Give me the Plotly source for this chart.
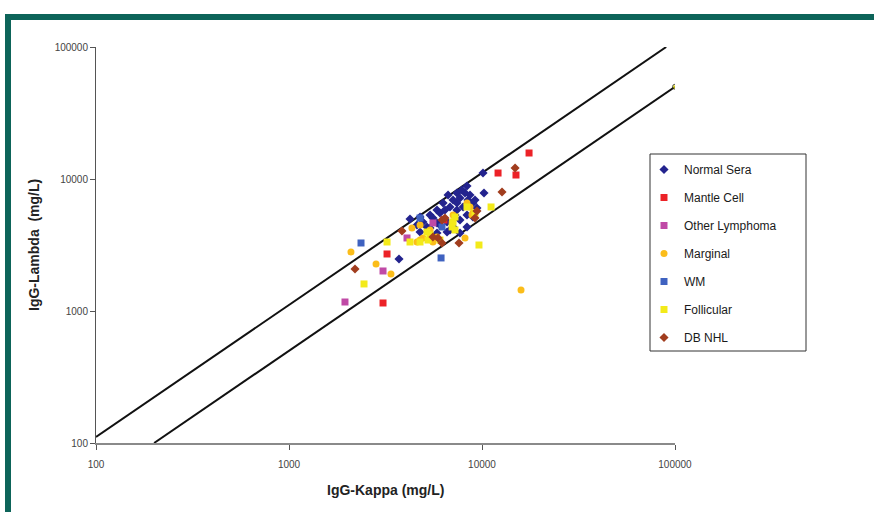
import plotly.graph_objects as go

# IgG-Kappa vs IgG-Lambda (mg/L) by diagnosis group
normal_kappa = [10120, 8360, 7415, 8165, 10240, 6670, 7080, 7690, 8455, 8975, 6285, 6825,
                5845, 7415, 7980, 9415, 5380, 6055, 4775, 4237, 8360, 4943, 5845, 6590,
                7690, 7080, 5185, 4603, 8360, 6590, 5845, 4775, 7690, 8975, 7415, 3715,
                6430, 7245, 8665, 6055, 5380, 7870, 9200, 5570, 6825]
normal_lambda = [11100, 8850, 7830, 7830, 7830, 7570, 6935, 7180, 6935, 6580, 6580, 6140,
                 5820, 5820, 6140, 6030, 5335, 5525, 5155, 4980, 5335, 4725, 4645, 4725,
                 4890, 4330, 4330, 4485, 4330, 3965, 3900, 3965, 3900, 5155, 6580, 2478,
                 5820, 5335, 7570, 4485, 4255, 8260, 6935, 5065, 4110]

mantle_kappa = [17530, 12110, 15000, 3221, 3070, 6355]
mantle_lambda = [15740, 11100, 10720, 2704, 1150, 4890]

other_kappa = [1950, 3070, 4087, 5570]
other_lambda = [1170, 2010, 3575, 4645]

marginal_kappa = [4335, 4775, 4603, 4943, 5380, 8360, 8665, 7080, 7000, 5570, 5845, 8165,
                  8975, 4775, 8870, 2094, 2825, 3375, 15930]
marginal_lambda = [4255, 4485, 3333, 3575, 4110, 6580, 6140, 5335, 4725, 3333, 3640, 3575,
                   5525, 3450, 5335, 2800, 2270, 1905, 1443]

wm_kappa = [2361, 6135, 4775, 6205]
wm_lambda = [3275, 2523, 5065, 4330]

follicular_kappa = [5185, 5380, 5250, 7080, 7000, 8360, 9200, 7245, 4775, 6055, 4237,
                    2447, 3221, 9645, 11140, 7245]
follicular_lambda = [3965, 3765, 3450, 4725, 4330, 6140, 5525, 5155, 3333, 3450, 3333,
                     1603, 3333, 3162, 6140, 4110]

dbnhl_kappa = [3848, 5915, 7600, 9415, 9200, 6205, 6430, 5570, 2198, 14840, 12700, 6205]
dbnhl_lambda = [4037, 3575, 3275, 5725, 5065, 4890, 5065, 3640, 2080, 12110, 7980, 3275]

# Ratio reference lines (kappa/lambda = 0.9 and 2.0)
upper_kappa = [100, 90000]
upper_lambda = [111.1, 100000]
lower_kappa = [200, 100000]
lower_lambda = [100, 50000]

series = [
    ("Normal Sera", normal_kappa, normal_lambda, "diamond", "#23238e", 7),
    ("Mantle Cell", mantle_kappa, mantle_lambda, "square", "#ec2227", 7),
    ("Other Lymphoma", other_kappa, other_lambda, "square", "#c04aa6", 7),
    ("Marginal", marginal_kappa, marginal_lambda, "circle", "#fbbd1a", 7),
    ("WM", wm_kappa, wm_lambda, "square", "#3f62c0", 7),
    ("Follicular", follicular_kappa, follicular_lambda, "square", "#f3ea1a", 7),
    ("DB NHL", dbnhl_kappa, dbnhl_lambda, "diamond", "#a13d1e", 7),
]

fig = go.Figure()

fig.add_trace(go.Scatter(x=upper_kappa, y=upper_lambda, mode="lines",
                         line=dict(color="#111111", width=2), showlegend=False,
                         hoverinfo="skip"))
fig.add_trace(go.Scatter(x=lower_kappa, y=lower_lambda, mode="lines+markers",
                         line=dict(color="#111111", width=2),
                         marker=dict(size=[0, 5], color="#f3ea1a"),
                         showlegend=False, hoverinfo="skip"))

for name, kx, ly, sym, col, sz in series:
    fig.add_trace(go.Scatter(x=kx, y=ly, mode="markers", name=name, legendgroup=name,
                             marker=dict(symbol=sym, color=col, size=sz, line=dict(width=0))))

L, R, T, B = 96, 675, 47, 443
W, H = 874, 512


def px(x):
    return (x - L) / (R - L)


def py(y):
    return (B - y) / (B - T)


shapes = [
    # page frame
    dict(type="rect", xref="paper", yref="paper", x0=px(5), x1=px(880), y0=py(20), y1=py(14),
         fillcolor="#0d6459", line=dict(width=0), layer="above"),
    dict(type="rect", xref="paper", yref="paper", x0=px(5), x1=px(11), y0=py(520), y1=py(14),
         fillcolor="#0d6459", line=dict(width=0), layer="above"),
    # legend box
    dict(type="rect", xref="paper", yref="paper", x0=px(650), x1=px(806), y0=py(351), y1=py(154),
         fillcolor="rgba(0,0,0,0)", line=dict(color="#333333", width=1)),
]

annotations = [
    dict(text="<b>IgG-Kappa (mg/L)</b>", xref="paper", yref="paper", x=0.5, y=py(490),
         xanchor="center", yanchor="middle", showarrow=False,
         font=dict(size=14, color="#222222")),
    dict(text="<b>IgG-Lambda  (mg/L)</b>", xref="paper", yref="paper", x=px(34), y=py(245),
         xanchor="center", yanchor="middle", showarrow=False, textangle=-90,
         font=dict(size=14, color="#222222")),
]

axis_common = dict(type="log", showgrid=False, zeroline=False, ticks="outside", ticklen=5,
                   tickfont=dict(size=10, color="#444444"), dtick=1, showline=True,
                   tickformat="d")

fig.update_layout(
    width=W, height=H,
    margin=dict(l=L, r=W - R, t=T, b=H - B),
    paper_bgcolor="white", plot_bgcolor="white",
    font=dict(family="Arial, Liberation Sans, sans-serif", color="#222222"),
    xaxis=dict(range=[2, 5], linecolor="#8a8a8a", linewidth=2, tickcolor="#555555",
               ticklabelstandoff=6, **axis_common),
    yaxis=dict(range=[2, 5], linecolor="#555555", linewidth=1, tickcolor="#555555",
               **axis_common),
    legend=dict(x=px(644), y=py(155), xanchor="left", yanchor="top",
                bgcolor="rgba(0,0,0,0)", borderwidth=0, tracegroupgap=9,
                font=dict(size=12, color="#1a1a1a"), traceorder="grouped"),
    shapes=shapes,
    annotations=annotations,
    showlegend=True,
)

fig.write_html("out.html")
